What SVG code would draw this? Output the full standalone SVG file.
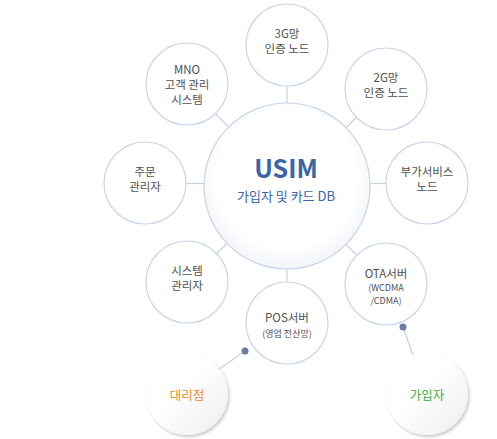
<svg xmlns="http://www.w3.org/2000/svg" width="497" height="439" viewBox="0 0 497 439">
<defs>
<style>
.node{fill:#fff;stroke:#c8d4ea;stroke-width:1.2}
.t{font-family:"Noto Sans CJK KR","Noto Sans",sans-serif;font-size:11.5px;fill:#505050;text-anchor:middle}
.s{font-size:9px}
.line{stroke:#c6cfde;stroke-width:1.2;fill:none}
.dot{fill:#6a7ea3}
</style>
<radialGradient id="cg" cx="0.5" cy="0.45" r="0.55">
<stop offset="0.75" stop-color="#ffffff"/>
<stop offset="1" stop-color="#f3f5f9"/>
</radialGradient>
<linearGradient id="sg" x1="0" y1="0" x2="1" y2="1">
<stop offset="0.4" stop-color="#ffffff"/>
<stop offset="1" stop-color="#eeeeee"/>
</linearGradient>
<filter id="sh" x="-20%" y="-20%" width="150%" height="150%">
<feDropShadow dx="1.5" dy="2" stdDeviation="1.8" flood-color="#000" flood-opacity="0.22"/>
</filter>
</defs>
<rect width="497" height="439" fill="#fff"/>
<g id="connectors">
<line class="line" x1="287" y1="103" x2="287" y2="86"/>
<line class="line" x1="228.6" y1="127" x2="215.9" y2="114.2"/>
<line class="line" x1="346" y1="127.6" x2="357" y2="116.8"/>
<line class="line" x1="204" y1="183.5" x2="186" y2="183.5"/>
<line class="line" x1="370" y1="183.5" x2="386" y2="183.5"/>
<line class="line" x1="227" y1="243.5" x2="216.6" y2="253.6"/>
<line class="line" x1="346" y1="244.4" x2="357" y2="255.2"/>
<line class="line" x1="287" y1="269" x2="287" y2="282"/>
<line class="line" x1="245" y1="351" x2="218" y2="370"/>
<line class="line" x1="403" y1="327" x2="413" y2="355"/>
<circle class="dot" cx="245" cy="351" r="3.5"/>
<circle class="dot" cx="403" cy="327" r="3.5"/>
</g>
<g id="usim">
<circle cx="287" cy="186" r="83" fill="url(#cg)" stroke="#c8d4ea" stroke-width="1.2"/>
<text x="286" y="178" font-family="Noto Sans CJK KR,Noto Sans,sans-serif" font-size="25" font-weight="bold" fill="#3a65a9" text-anchor="middle">USIM</text>
<text x="286" y="201" font-family="Noto Sans CJK KR,Noto Sans,sans-serif" font-size="13" fill="#3a65a9" text-anchor="middle">가입자 및 카드 DB</text>
</g>
<g id="n3g">
<circle class="node" cx="287" cy="45" r="41"/>
<text class="t" x="287" y="38">3G망</text>
<text class="t" x="287" y="53">인증 노드</text>
</g>
<g id="nmno">
<circle class="node" cx="187" cy="84" r="41"/>
<text class="t" x="187" y="74">MNO</text>
<text class="t" x="187" y="89">고객 관리</text>
<text class="t" x="187" y="104">시스템</text>
</g>
<g id="n2g">
<circle class="node" cx="386" cy="89" r="41"/>
<text class="t" x="386" y="82">2G망</text>
<text class="t" x="386" y="97">인증 노드</text>
</g>
<g id="njumun">
<circle class="node" cx="145" cy="183" r="41"/>
<text class="t" x="145" y="176">주문</text>
<text class="t" x="145" y="191">관리자</text>
</g>
<g id="nbuga">
<circle class="node" cx="427" cy="183" r="41"/>
<text class="t" x="427" y="176">부가서비스</text>
<text class="t" x="427" y="191">노드</text>
</g>
<g id="nsys">
<circle class="node" cx="187" cy="282" r="41"/>
<text class="t" x="187" y="275">시스템</text>
<text class="t" x="187" y="290">관리자</text>
</g>
<g id="nota">
<circle class="node" cx="386" cy="284" r="41"/>
<text class="t" x="386" y="278">OTA서버</text>
<text class="t s" x="386" y="291">(WCDMA</text>
<text class="t s" x="386" y="304">/CDMA)</text>
</g>
<g id="npos">
<circle class="node" cx="287" cy="323" r="41"/>
<text class="t" x="287" y="322">POS서버</text>
<text class="t s" x="287" y="337">(영업 전산망)</text>
</g>
<g id="ndaeri">
<circle cx="187" cy="394" r="41" fill="url(#sg)" filter="url(#sh)"/>
<text class="t" x="187" y="400" style="fill:#f08a2a;font-size:12.5px">대리점</text>
</g>
<g id="ngaip">
<circle cx="427" cy="394" r="41" fill="url(#sg)" filter="url(#sh)"/>
<text class="t" x="427" y="400" style="fill:#3aae3e;font-size:12.5px">가입자</text>
</g>
</svg>
